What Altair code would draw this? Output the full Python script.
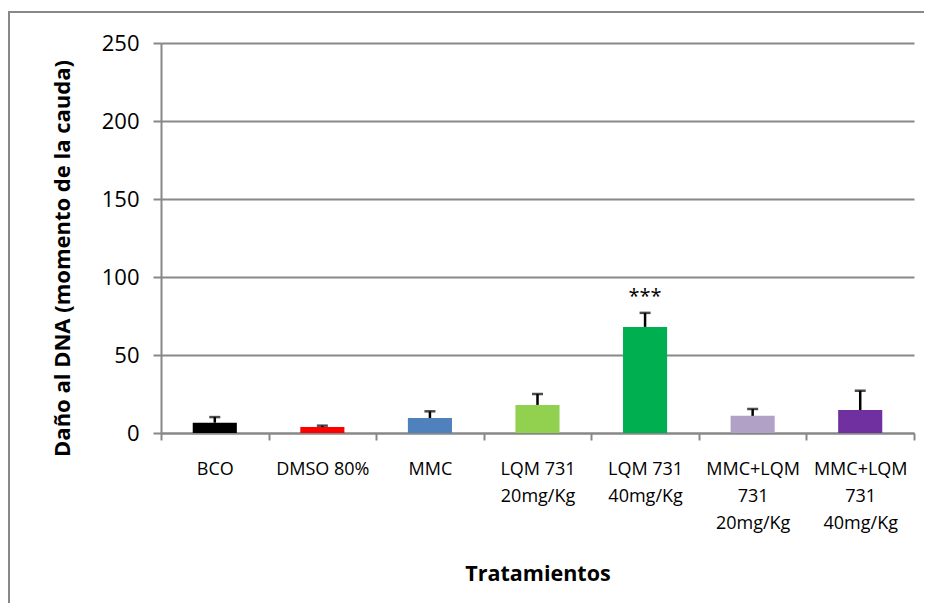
import altair as alt
import pandas as pd

categories = ["BCO", "DMSO 80%", "MMC", "LQM 731\n20mg/Kg", "LQM 731\n40mg/Kg",
              "MMC+LQM\n731\n20mg/Kg", "MMC+LQM\n731\n40mg/Kg"]
means = [6.6, 3.8, 9.6, 18.0, 68.0, 11.0, 14.7]
errors = [3.6, 0.9, 4.3, 7.0, 9.0, 4.4, 12.4]
marks = ["", "", "", "", "***", "", ""]
colors = ["#000000", "#FF0000", "#4F81BD", "#92D050", "#00B050", "#B2A1C7", "#7030A0"]

df = pd.DataFrame({
    "cat": categories,
    "mean": means,
    "upper": [m + e for m, e in zip(means, errors)],
    "sig": marks,
})

FONT = "Open Sans"
GRAY = "#888888"

x_enc = alt.X(
    "cat:N", sort=categories,
    scale=alt.Scale(paddingInner=0, paddingOuter=0),
    axis=alt.Axis(
        title="Tratamientos", labelAngle=0, labelExpr="split(datum.label, '\\n')",
        labelFontSize=18, labelLineHeight=27, labelPadding=20, labelFont=FONT,
        labelColor="#000000", tickBand="extent", tickSize=7, tickColor=GRAY,
        tickWidth=2, domainColor=GRAY, domainWidth=2,
        titleFont=FONT, titleFontSize=21.5, titleFontWeight="bold", titleColor="#000000",
        titleY=147, titleBaseline="alphabetic", grid=False,
    ),
)

y_scale = alt.Scale(domain=[0, 250], nice=False)
y_axis = alt.Axis(
    title="Daño al DNA (momento de la cauda)", values=[0, 50, 100, 150, 200, 250],
    labelFontSize=22, labelFont=FONT, labelColor="#000000", labelPadding=14,
    tickSize=8, tickColor=GRAY, tickWidth=2, domainColor=GRAY, domainWidth=2,
    grid=True, gridColor=GRAY, gridWidth=2,
    titleFont=FONT, titleFontSize=22, titleFontWeight="bold", titleColor="#000000",
    titleY=215, titlePadding=27,
)

base = alt.Chart(df)

bars = base.mark_bar(width=alt.RelativeBandSize(0.41)).encode(
    x=x_enc,
    y=alt.Y("mean:Q", scale=y_scale, axis=y_axis),
    color=alt.Color("cat:N", scale=alt.Scale(domain=categories, range=colors), legend=None),
)

err = base.mark_rule(color="#000000", strokeWidth=2.5).encode(
    x=alt.X("cat:N", sort=categories), y="mean:Q", y2="upper:Q"
)

caps = base.mark_tick(color="#000000", size=11, thickness=2.5).encode(
    x=alt.X("cat:N", sort=categories), y="upper:Q"
)

sig = base.mark_text(dy=-10, baseline="alphabetic", fontSize=20, font=FONT, color="#000000").encode(
    x=alt.X("cat:N", sort=categories), y="upper:Q", text="sig:N"
)

frame = base.transform_filter("datum.sig == '***'")
border_left = frame.mark_rule(stroke=GRAY, strokeWidth=2).encode(
    x=alt.value(-152), y=alt.value(-31), y2=alt.value(700)
)
border_top = frame.mark_rule(stroke=GRAY, strokeWidth=2).encode(
    x=alt.value(-153), x2=alt.value(900), y=alt.value(-31)
)

chart = alt.layer(border_left, border_top, bars, err, caps, sig).properties(
    width=753, height=390,
    autosize=alt.AutoSizeParams(type="none"),
    padding={"left": 153, "top": 35, "right": 10, "bottom": 170},
    background="#FFFFFF",
).configure_view(strokeWidth=0)

chart.save("out.html", embed_options={"renderer": "svg", "actions": False})
